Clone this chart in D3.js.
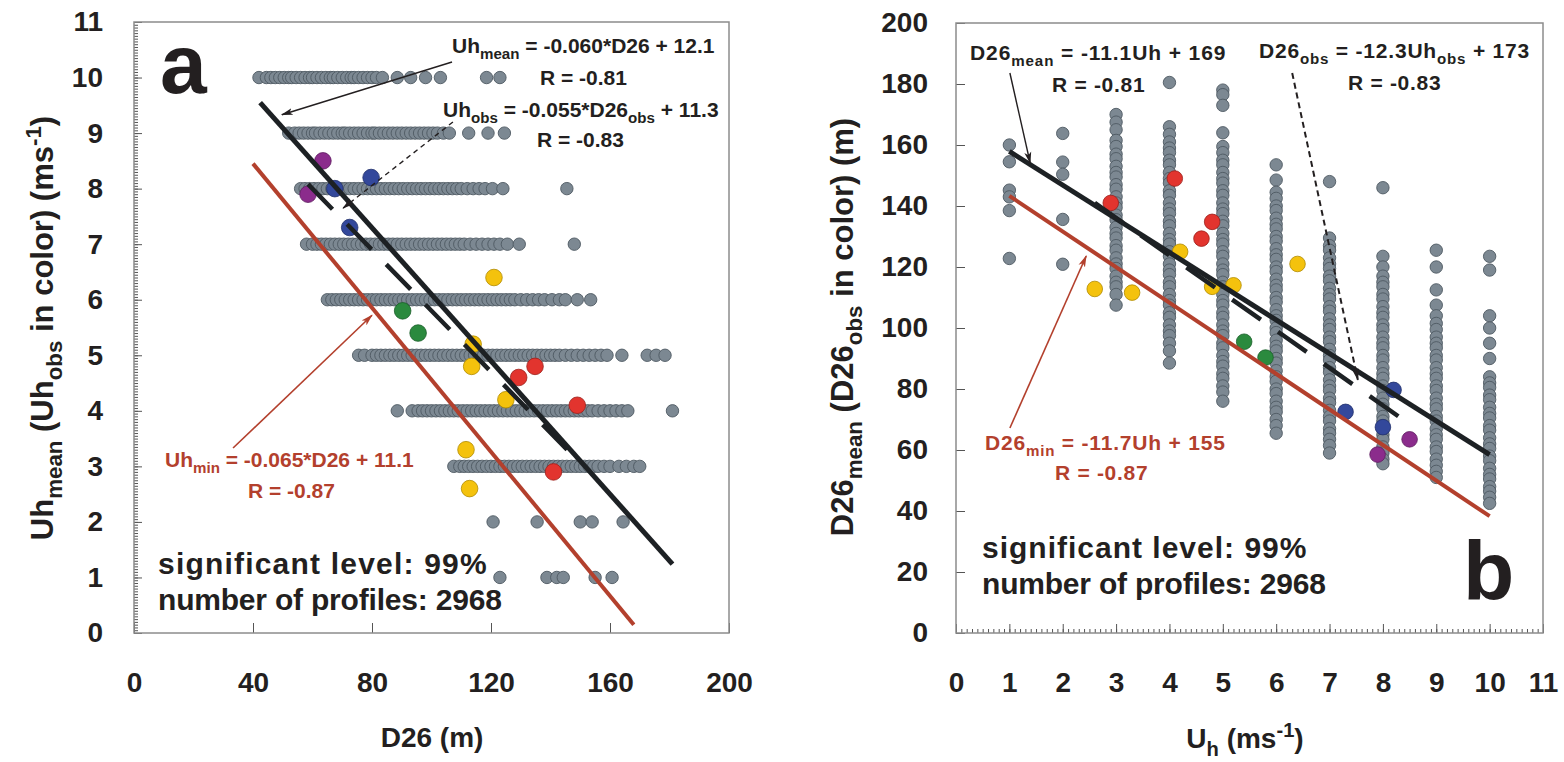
<!DOCTYPE html>
<html>
<head>
<meta charset="utf-8">
<script src="https://cdn.jsdelivr.net/npm/d3@7"></script>
<style>
  body { margin: 0; background: #fff; }
  svg text { font-family: "Liberation Sans", Arial, sans-serif; font-weight: bold; }
</style>
</head>
<body>
<svg id="chart" width="1564" height="762"></svg>
<script>
// ---------- data: panel a (D26 of each profile, grouped by Uh_mean) ----------
const d26Uh10 = [42,44.5,46,47.5,49,50.5,52,53,54.5,56,57.5,59,60,61.5,63,64.5,66,67,68.5,70,71.5,73,74,75.5,77,78.5,80,81.5,83.5,88.5,93,98,103,118.5,123];
const d26Uh9 = [52,54,55.5,57,58.5,60,61,62.5,64,65.5,67,68.5,70,71,72.5,74,75.5,77,78.5,80,81,82.5,84,85.5,87,88.5,90,91.5,93,94.5,96,97.5,99,100.5,102,104,106,112.5,119,124.5];
const d26Uh8 = [56,57.5,59,60.5,62,63.5,65,66.5,68,69.5,71,72.5,74,75.5,77,78.5,80,81.5,83,84.5,86,87.5,89,90.5,92,93.5,95,96.5,98,99.5,101,102.5,104,105.5,107,108.5,110,112,114,116,118,120.5,124,145.5];
const d26Uh7 = [58,60,61.5,63,64.5,66,67.5,69,70.5,72,73.5,75,76.5,78,79.5,81,82.5,84,85.5,87,88.5,90,91.5,93,94.5,96,97.5,99,100.5,102,103.5,105,106.5,108,109.5,111,113,115,117,119,121,123,125.5,129.5,148];
const d26Uh6 = [65,66.5,68,69.5,71,72.5,74,75.5,77,78.5,80,81.5,83,84.5,86,87.5,89,90.5,92,93.5,95,96.5,98,99.5,101,102.5,104,105.5,107,108.5,110,111.5,113,114.5,116,117.5,119,120.5,122,123.5,125,126.5,128,130,132,134,136,138,140.5,143,145,149,153.5];
const d26Uh5 = [75.5,77.5,80,81.5,83,84.5,86,87.5,89,90.5,92,93.5,95,96.5,98,99.5,101,102.5,104,105.5,107,108.5,110,111.5,113,114.5,116,117.5,119,120.5,122,123.5,125,126.5,128,129.5,131,132.5,134,135.5,137,138.5,140,141.5,143,145,147,149,151,153,155,157,159,164,172.5,175.5,178.5];
const d26Uh4 = [88.5,93.5,95.5,97,98.5,100,101.5,103,104.5,106,107.5,109,110.5,112,113.5,115,116.5,118,119.5,121,122.5,124,125.5,127,128.5,130,131.5,133,134.5,136,137.5,139,140.5,142,143.5,145,146.5,148,149.5,151,152.5,154,156,158,160,162,164,166,181];
const d26Uh3 = [107.5,109.5,111,112.5,114,115.5,117,118.5,120,121.5,123,124.5,126,127.5,129,130.5,132,133.5,135,136.5,138,139.5,141,142.5,144,145.5,147,148.5,150,151.5,153,154.5,156,158,160,163,165.5,168,170];
const d26Uh2 = [120.7,135.5,150,154,164.4];
const d26Uh1 = [123,138.8,142.1,144.3,155,160.7];
const uhLevelsA = [10,9,8,7,6,5,4,3,2,1];

// ---------- data: panel b (D26_mean of each profile, grouped by Uh) ----------
const d26mUh1 = [160,154.5,145.2,143,138.5,122.8];
const d26mUh2 = [163.8,154.4,150.4,135.6,120.9];
const d26mUh3 = [170,167.5,165,161.5,159.5,157,155.5,153,151,149.5,147,145.5,143,141,139.5,137,135.5,133,131,129.5,127,125.5,123,121,119.5,117,115,113.5,111,107.5];
const d26mUh4 = [180.5,166,163.5,161,159,157.5,155,153.5,151,149,147.5,145,143.5,141,139,137.5,135,133.5,131,129,127.5,125,123.5,121,119,117.5,115,113.5,111,109,107.5,105,103.5,101,99,97.5,95,92.5,88.5];
const d26mUh5 = [178,176.5,173,164,159.5,157.5,155,153.5,151,149,147.5,145,143.5,141,139,137.5,135,133.5,131,129,127.5,125,123.5,121,119,117.5,115,113.5,111,109,107.5,105,103.5,101,99,97.5,95,93.5,91,89,87.5,85,83.5,81,79,76];
const d26mUh6 = [153.5,148.5,144.5,142.5,140,138.5,136,134,132.5,130,128.5,126,124,122.5,120,118.5,116,114,112.5,110,108.5,106,104,102.5,100,98.5,96,94,92.5,90,88.5,86,84,82.5,80,78.5,76,74,72.5,70,68,65.5];
const d26mUh7 = [148,129.5,127,125.5,123,121,119.5,117,115.5,113,111,109.5,107,105.5,103,101,99.5,97,95.5,93,91,89.5,87,85.5,83,81,79.5,77,75.5,73,71,69.5,67,65.5,63.5,61.5,59];
const d26mUh8 = [146,123.5,120,117,115,113.5,111,109.5,107,105,103.5,101,99.5,97,95,93.5,91,89.5,87,85,83.5,81,79.5,77,75,73.5,71,69.5,67,65,63.5,61,59,57,55.5];
const d26mUh9 = [125.5,120,112.5,107.5,104,101.5,99.5,97,95,93.5,91,89.5,87,85,83.5,81,79.5,77,75,73.5,71,69.5,67,65,63.5,61,59.5,57,55,53,51];
const d26mUh10 = [123.5,119,104,100,95,90,84,82,80.5,78,76.5,74,72,70.5,68,66.5,64,62,60.5,58,56.5,54,52,50.5,48,46.5,44.5,42.5];
const uhLevelsB = [1,2,3,4,5,6,7,8,9,10];

// ---------- observed profiles (coloured) ----------
const obsGroup = ["purple","purple","blue","blue","blue","green","green","yellow","yellow","yellow","yellow","yellow","yellow","red","red","red","red"];
const obsD26   = [63.5, 58.5, 67.5, 79.7, 72.5, 90.3, 95.5, 121, 114, 113.5, 125, 111.6, 112.8, 134.8, 129.3, 149, 141];
const obsUh    = [8.5, 7.9, 8.0, 8.2, 7.3, 5.8, 5.4, 6.4, 5.2, 4.8, 4.2, 3.3, 2.6, 4.8, 4.6, 4.1, 2.9];

// ---------- regression lines (end points) ----------
const fitMeanA = [[42.4, 9.55], [181, 1.24]];
const fitObsA  = [[58.5, 8.08], [147, 3.22]];
const fitMinA  = [[40, 8.45], [168, 0.15]];
const fitMeanB = [[1, 157.9], [10, 58.5]];
const fitObsB  = [[2.6, 141], [8.35, 70.3]];
const fitMinB  = [[1, 143.3], [10, 38.3]];

// ---------- styles ----------
const groupFill = { purple: "#8b2c8c", blue: "#33489b", green: "#2b8a3e", yellow: "#f4c20d", red: "#e2342e" };
const groupStroke = { purple: "#5e1c60", blue: "#1f2e6a", green: "#1b5e29", yellow: "#b08a00", red: "#9b211c" };
const grayFill = "#7c8892", grayStroke = "#4e5962";
const ink = "#231f20", brick = "#b3402d";

const svg = d3.select("#chart");

const defs = svg.append("defs");
function arrowMarker(id, color) {
  defs.append("marker")
    .attr("id", id)
    .attr("viewBox", "0 0 12 8")
    .attr("refX", 11).attr("refY", 4)
    .attr("markerWidth", 12).attr("markerHeight", 8)
    .attr("markerUnits", "userSpaceOnUse")
    .attr("orient", "auto")
    .append("path")
    .attr("d", "M0,0.5 L12,4 L0,7.5 L3,4 Z")
    .attr("fill", color);
}
arrowMarker("arrK", ink);
arrowMarker("arrR", brick);

// text with sub/superscripts: parts = [[string, "sub"|"sup"|undefined], ...]
function richText(g, x, y, parts, fs, color, anchor, transform, spacing) {
  const t = g.append("text")
    .attr("font-size", fs)
    .attr("fill", color)
    .attr("text-anchor", anchor || "start");
  if (transform) t.attr("transform", transform); else t.attr("x", x).attr("y", y);
  if (spacing) t.attr("letter-spacing", spacing);
  let shift = 0;
  parts.forEach(p => {
    const ts = t.append("tspan").text(p[0]);
    const target = p[1] === "sub" ? fs * 0.3 : p[1] === "sup" ? -fs * 0.38 : 0;
    if (target !== shift) { ts.attr("dy", target - shift); shift = target; }
    if (p[1]) ts.attr("font-size", fs * 0.72);
  });
  return t;
}

function frame(box) {
  svg.append("rect")
    .attr("x", box.x0).attr("y", box.y0)
    .attr("width", box.x1 - box.x0).attr("height", box.y1 - box.y0)
    .attr("fill", "none").attr("stroke", "#8c8c8c").attr("stroke-width", 1.5);
}

function styleAxis(g) {
  g.select(".domain").remove();
  g.selectAll("line").attr("stroke", "#555").attr("stroke-width", 1);
  g.selectAll("text").attr("font-size", 28).attr("fill", ink)
    .style("font-family", "'Liberation Sans', Arial, sans-serif").style("font-weight", "bold");
}

function fitLine(g, pts, x, y, color, width, dash) {
  const l = g.append("path")
    .attr("d", d3.line().x(d => x(d[0])).y(d => y(d[1]))(pts))
    .attr("fill", "none").attr("stroke", color).attr("stroke-width", width);
  if (dash) l.attr("stroke-dasharray", dash);
}

function arrow(g, from, to, x, y, color, marker, width, dash) {
  const l = g.append("line")
    .attr("x1", x(from[0])).attr("y1", y(from[1]))
    .attr("x2", x(to[0])).attr("y2", y(to[1]))
    .attr("stroke", color).attr("stroke-width", width)
    .attr("marker-end", "url(#" + marker + ")");
  if (dash) l.attr("stroke-dasharray", dash);
}

// ======================= panel a =======================
const boxA = { x0: 134, x1: 729, y0: 22, y1: 633 };
const xA = d3.scaleLinear().domain([0, 200]).range([boxA.x0, boxA.x1]);
const yA = d3.scaleLinear().domain([0, 11]).range([boxA.y1, boxA.y0]);
const gA = svg.append("g");

frame(boxA);
gA.append("g").attr("transform", `translate(0,${boxA.y1})`)
  .call(d3.axisBottom(xA).tickValues(d3.range(0, 201, 40)).tickSizeInner(-10).tickSizeOuter(0).tickPadding(39))
  .call(styleAxis);
gA.append("g").attr("transform", `translate(${boxA.x0},0)`)
  .call(d3.axisLeft(yA).tickValues(d3.range(0, 12, 1)).tickSizeInner(-8).tickSizeOuter(0).tickPadding(31))
  .call(styleAxis);
gA.append("g").attr("transform", `translate(${boxA.x0},0)`)
  .call(d3.axisLeft(yA).tickValues(d3.range(0, 11.001, 0.05)).tickSizeInner(-4).tickSizeOuter(0).tickFormat(""))
  .call(styleAxis);

const rowsA = [d26Uh10, d26Uh9, d26Uh8, d26Uh7, d26Uh6, d26Uh5, d26Uh4, d26Uh3, d26Uh2, d26Uh1];
const ptsA = [];
rowsA.forEach((row, i) => row.forEach(v => ptsA.push({ d26: v, uh: uhLevelsA[i] })));
gA.append("g").selectAll("circle").data(ptsA).join("circle")
  .attr("cx", d => xA(d.d26)).attr("cy", d => yA(d.uh)).attr("r", 6.2)
  .attr("fill", grayFill).attr("stroke", grayStroke).attr("stroke-width", 0.9);

const obs = obsGroup.map((g, i) => ({ group: g, d26: obsD26[i], uh: obsUh[i] }));
gA.append("g").selectAll("circle").data(obs).join("circle")
  .attr("cx", d => xA(d.d26)).attr("cy", d => yA(d.uh)).attr("r", 8.3)
  .attr("fill", d => groupFill[d.group]).attr("stroke", d => groupStroke[d.group]).attr("stroke-width", 0.8);

fitLine(gA, fitMinA, xA, yA, brick, 4);
fitLine(gA, fitObsA, xA, yA, "#1d2124", 4.5, "35 21");
fitLine(gA, fitMeanA, xA, yA, "#1d2124", 5);

arrow(gA, [106.9, 10.28], [49.7, 9.33], xA, yA, ink, "arrK", 1.4);
arrow(gA, [107.2, 9.2], [70.3, 7.65], xA, yA, ink, "arrK", 1.4, "5 4");
arrow(gA, [33.3, 3.33], [80, 5.72], xA, yA, brick, "arrR", 1.6);

richText(gA, 452, 53, [["Uh"], ["mean", "sub"], [" = -0.060*D26 + 12.1"]], 21, ink);
richText(gA, 540, 85, [["R = -0.81"]], 21, ink);
richText(gA, 443, 117, [["Uh"], ["obs", "sub"], [" = -0.055*D26"], ["obs", "sub"], [" + 11.3"]], 21, ink);
richText(gA, 537, 147, [["R = -0.83"]], 21, ink);
richText(gA, 165, 467, [["Uh"], ["min", "sub"], [" = -0.065*D26 + 11.1"]], 21, brick);
richText(gA, 248, 498, [["R = -0.87"]], 21, brick);
richText(gA, 158, 574, [["significant level: 99%"]], 30, ink, null, null, 1.2);
richText(gA, 158, 610, [["number of profiles: 2968"]], 30, ink, null, null, -0.2);
richText(gA, 160, 93, [["a"]], 84, ink);

richText(gA, 0, 0, [["D26 (m)"]], 28, ink, "middle", "translate(432,747)");
richText(gA, 0, 0, [["Uh"], ["mean", "sub"], [" (Uh"], ["obs", "sub"], [" in color) (ms"], ["-1", "sup"], [")"]],
  31, ink, "middle", "translate(53,328) rotate(-90)");

// ======================= panel b =======================
const boxB = { x0: 956, x1: 1543, y0: 23, y1: 633 };
const xB = d3.scaleLinear().domain([0, 11]).range([boxB.x0, boxB.x1]);
const yB = d3.scaleLinear().domain([0, 200]).range([boxB.y1, boxB.y0]);
const gB = svg.append("g");

frame(boxB);
gB.append("g").attr("transform", `translate(0,${boxB.y1})`)
  .call(d3.axisBottom(xB).tickValues(d3.range(0, 12, 1)).tickSizeInner(-9).tickSizeOuter(0).tickPadding(39))
  .call(styleAxis);
gB.append("g").attr("transform", `translate(0,${boxB.y1})`)
  .call(d3.axisBottom(xB).tickValues(d3.range(0, 11.001, 0.1)).tickSizeInner(-4).tickSizeOuter(0).tickFormat(""))
  .call(styleAxis);
gB.append("g").attr("transform", `translate(${boxB.x0},0)`)
  .call(d3.axisLeft(yB).tickValues(d3.range(0, 201, 20)).tickSizeInner(-9).tickSizeOuter(0).tickPadding(28))
  .call(styleAxis);

const colsB = [d26mUh1, d26mUh2, d26mUh3, d26mUh4, d26mUh5, d26mUh6, d26mUh7, d26mUh8, d26mUh9, d26mUh10];
const ptsB = [];
colsB.forEach((col, i) => col.forEach(v => ptsB.push({ uh: uhLevelsB[i], d26: v })));
gB.append("g").selectAll("circle").data(ptsB).join("circle")
  .attr("cx", d => xB(d.uh)).attr("cy", d => yB(d.d26)).attr("r", 6.2)
  .attr("fill", grayFill).attr("stroke", grayStroke).attr("stroke-width", 0.9);

gB.append("g").selectAll("circle").data(obs).join("circle")
  .attr("cx", d => xB(d.uh)).attr("cy", d => yB(d.d26)).attr("r", 7.8)
  .attr("fill", d => groupFill[d.group]).attr("stroke", d => groupStroke[d.group]).attr("stroke-width", 0.8);

fitLine(gB, fitMinB, xB, yB, brick, 4);
fitLine(gB, fitObsB, xB, yB, "#1d2124", 4.5, "35 21");
fitLine(gB, fitMeanB, xB, yB, "#1d2124", 5);

arrow(gB, [1.01, 183.6], [1.39, 154.1], xB, yB, ink, "arrK", 1.4);
arrow(gB, [6.3, 183.6], [7.53, 83], xB, yB, ink, "arrK", 2, "6 4");
arrow(gB, [1.01, 67.2], [2.44, 123.6], xB, yB, brick, "arrR", 1.6);

richText(gB, 970, 60, [["D26"], ["mean", "sub"], [" = -11.1Uh + 169"]], 21, ink, null, null, 0.9);
richText(gB, 1052, 92, [["R = -0.81"]], 21, ink, null, null, 0.7);
richText(gB, 1259, 58, [["D26"], ["obs", "sub"], [" = -12.3Uh"], ["obs", "sub"], [" + 173"]], 21, ink, null, null, 0.8);
richText(gB, 1348, 90, [["R = -0.83"]], 21, ink, null, null, 0.7);
richText(gB, 985, 450, [["D26"], ["min", "sub"], [" = -11.7Uh + 155"]], 21, brick, null, null, 0.8);
richText(gB, 1055, 480, [["R = -0.87"]], 21, brick, null, null, 0.7);
richText(gB, 982, 558, [["significant level: 99%"]], 30, ink, null, null, 1.0);
richText(gB, 982, 594, [["number of profiles: 2968"]], 30, ink, null, null, -0.2);
richText(gB, 1463, 600, [["b"]], 84, ink);

richText(gB, 0, 0, [["U"], ["h", "sub"], [" (ms"], ["-1", "sup"], [")"]], 28, ink, "middle", "translate(1245,748)");
richText(gB, 0, 0, [["D26"], ["mean", "sub"], [" (D26"], ["obs", "sub"], [" in color) (m)"]],
  31, ink, "middle", "translate(853,327) rotate(-90)");
</script>
</body>
</html>
